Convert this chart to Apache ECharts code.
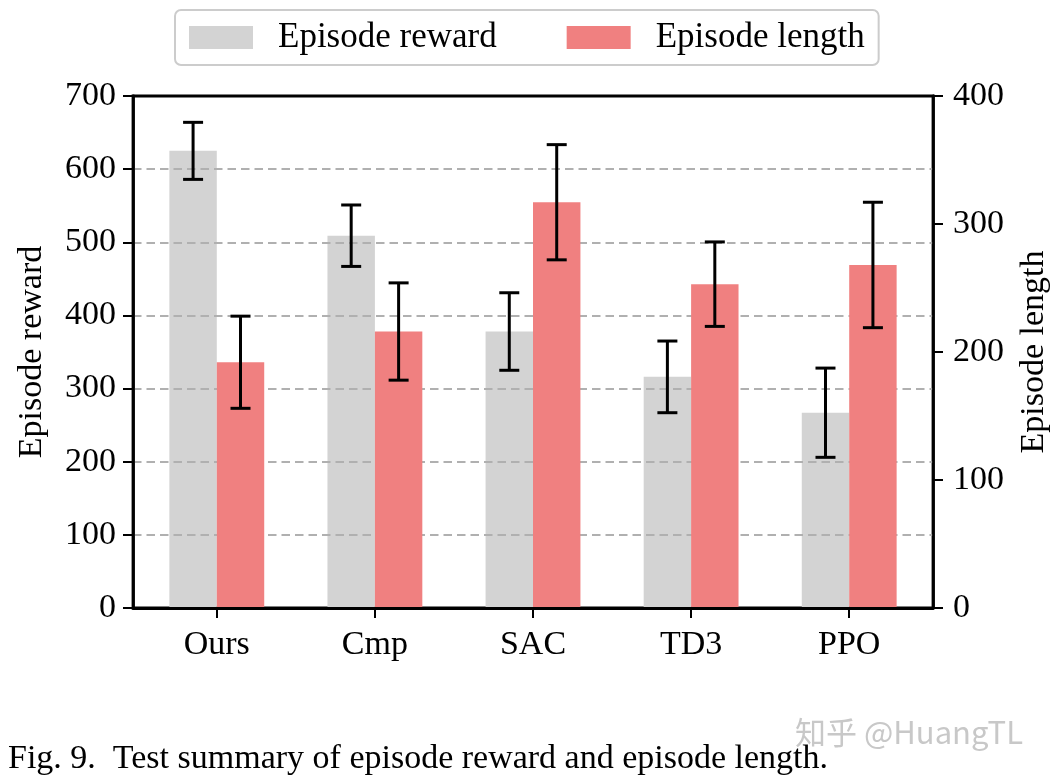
<!DOCTYPE html>
<html>
<head>
<meta charset="utf-8">
<script src="https://cdn.jsdelivr.net/npm/echarts@6/dist/echarts.min.js"></script>
<style>
html,body{margin:0;padding:0;background:#fff;}
#chart{width:1050px;height:781px;}
</style>
</head>
<body>
<div id="chart"></div>
<script>
const categories = ['Ours', 'Cmp', 'SAC', 'TD3', 'PPO'];
const rewardMean = [625, 509, 378, 316, 267];
const rewardErr = [39, 42, 53, 49, 61];
const lengthMean = [192, 216, 317, 253, 268];
const lengthErr = [36, 38, 45, 33, 49];
const leftTicks = [0, 100, 200, 300, 400, 500, 600, 700];
const rightTicks = [0, 100, 200, 300, 400];

const FONT = '"Liberation Serif", "DejaVu Serif", serif';
const BAR_W = 0.3;

function barData(vals) { return vals.map((v, i) => [i, v]); }
function errData(vals, errs) { return vals.map((v, i) => [i, v, errs[i]]); }

function barRender(offset, color) {
  return function (params, api) {
    const x = api.value(0) + offset;
    const y = api.value(1);
    const p1 = api.coord([x - BAR_W / 2, y]);
    const p2 = api.coord([x + BAR_W / 2, 0]);
    return {
      type: 'rect',
      shape: { x: p1[0], y: p1[1], width: p2[0] - p1[0], height: p2[1] - p1[1] },
      style: { fill: color }
    };
  };
}
function errRender(offset) {
  return function (params, api) {
    const x = api.value(0) + offset;
    const y = api.value(1);
    const e = api.value(2);
    const t = api.coord([x, y + e]);
    const b = api.coord([x, y - e]);
    const cap = 10;
    const st = { stroke: '#000', lineWidth: 3 };
    return {
      type: 'group',
      children: [
        { type: 'line', shape: { x1: t[0], y1: t[1], x2: b[0], y2: b[1] }, style: st },
        { type: 'line', shape: { x1: t[0] - cap, y1: t[1], x2: t[0] + cap, y2: t[1] }, style: st },
        { type: 'line', shape: { x1: b[0] - cap, y1: b[1], x2: b[0] + cap, y2: b[1] }, style: st }
      ]
    };
  };
}

const chart = echarts.init(document.getElementById('chart'), null, { renderer: 'canvas' });
chart.setOption({
  backgroundColor: '#fff',
  animation: false,
  grid: { left: 133, right: 117, top: 96, bottom: 173, containLabel: false, outerBoundsMode: 'none',
    show: true, borderColor: '#000', borderWidth: 2.8, backgroundColor: 'transparent' },
  legend: {
    top: 10, left: 175,
    orient: 'horizontal',
    itemWidth: 64, itemHeight: 23, itemGap: 70,
    padding: [10, 14, 10, 14],
    borderColor: '#cccccc', borderWidth: 2, borderRadius: 6,
    backgroundColor: '#fff',
    textStyle: { fontFamily: FONT, fontSize: 35, color: '#000', padding: [0, 0, 0, 20] },
    data: [
      { name: 'Episode reward', icon: 'rect', itemStyle: { color: '#d3d3d3' } },
      { name: 'Episode length', icon: 'rect', itemStyle: { color: '#f08080' } }
    ]
  },
  xAxis: {
    type: 'value', min: -0.53, max: 4.53, z: 10,
    splitLine: { show: false },
    axisLine: { show: true, onZero: false, lineStyle: { color: '#000', width: 2.8 } },
    axisTick: { show: true, length: 10, lineStyle: { color: '#000', width: 2 }, customValues: [0, 1, 2, 3, 4] },
    axisLabel: {
      customValues: [0, 1, 2, 3, 4],
      formatter: v => categories[Math.round(v)],
      fontFamily: FONT, fontSize: 34, color: '#000', margin: 20
    }
  },
  yAxis: [
    {
      type: 'value', min: 0, max: 700, interval: 100, position: 'left', z: 2,
      name: 'Episode reward', nameLocation: 'middle', nameGap: 84, nameRotate: 90,
      nameTextStyle: { fontFamily: FONT, fontSize: 34, color: '#000' },
      axisLine: { show: true, onZero: false, lineStyle: { color: '#000', width: 2.8 } },
      axisTick: { show: true, length: 10, lineStyle: { color: '#000', width: 2 } },
      axisLabel: { fontFamily: FONT, fontSize: 34, color: '#000', margin: 17,
        formatter: v => leftTicks.includes(v) ? String(v) : '' },
      splitLine: { show: true, showMinLine: false, showMaxLine: false,
        lineStyle: { color: '#b0b0b0', width: 2, type: [8.5, 5] } }
    },
    {
      type: 'value', min: 0, max: 400, interval: 100, position: 'right', z: 10,
      name: 'Episode length', nameLocation: 'middle', nameGap: 84, nameRotate: 90,
      nameTextStyle: { fontFamily: FONT, fontSize: 34, color: '#000' },
      axisLine: { show: true, onZero: false, lineStyle: { color: '#000', width: 2.8 } },
      axisTick: { show: true, length: 10, lineStyle: { color: '#000', width: 2 } },
      axisLabel: { fontFamily: FONT, fontSize: 34, color: '#000', margin: 20,
        formatter: v => rightTicks.includes(v) ? String(v) : '' },
      splitLine: { show: false }
    }
  ],
  series: [
    { name: 'Episode reward', type: 'custom', xAxisIndex: 0, yAxisIndex: 0, z: 1,
      itemStyle: { color: '#d3d3d3' },
      renderItem: barRender(-0.15, '#d3d3d3'), data: barData(rewardMean) },
    { name: 'reward err', type: 'custom', xAxisIndex: 0, yAxisIndex: 0, z: 3,
      renderItem: errRender(-0.15), data: errData(rewardMean, rewardErr) },
    { name: 'Episode length', type: 'custom', xAxisIndex: 0, yAxisIndex: 1, z: 4,
      itemStyle: { color: '#f08080' },
      renderItem: barRender(0.15, '#f08080'), data: barData(lengthMean) },
    { name: 'length err', type: 'custom', xAxisIndex: 0, yAxisIndex: 1, z: 5,
      renderItem: errRender(0.15), data: errData(lengthMean, lengthErr) }
  ],
  graphic: [
    { type: 'text', left: 795, top: 717, z: 1,
      style: { text: '知乎 @HuangTL', fill: '#c8c8c8', font: '31px "Noto Sans CJK SC", "Noto Sans", sans-serif' } },
    { type: 'text', left: 8, top: 742, z: 2,
      style: { text: 'Fig. 9.  Test summary of episode reward and episode length.', fill: '#000', font: '34px "Liberation Serif", serif' } }
  ]
});
</script>
</body>
</html>
